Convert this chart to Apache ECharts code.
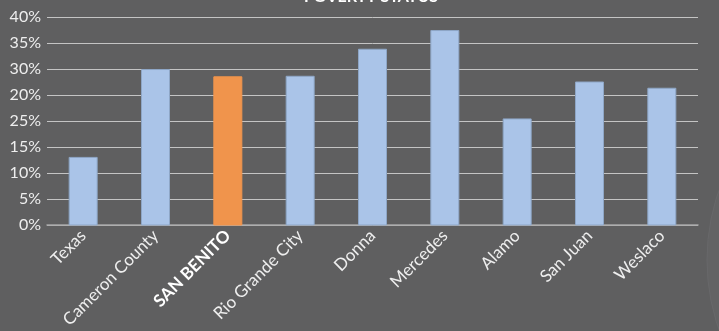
<!DOCTYPE html>
<html>
<head>
<meta charset="utf-8">
<script src="https://cdn.jsdelivr.net/npm/echarts@6/dist/echarts.min.js"></script>
<style>
html, body { margin: 0; padding: 0; background: #5f5f60; }
#chart { width: 719px; height: 331px; }
</style>
</head>
<body>
<div id="chart"></div>
<script>
// poverty status by place
var categories = ['Texas', 'Cameron County', 'SAN BENITO', 'Rio Grande City', 'Donna', 'Mercedes', 'Alamo', 'San Juan', 'Weslaco'];
var values = [13.0, 29.9, 28.5, 28.6, 33.8, 37.4, 20.4, 27.5, 26.3];
var highlight = 'SAN BENITO';
// tick labels as printed on the original, bottom to top
var yTicks = ['0%', '5%', '10%', '15%', '25%', '20%', '30%', '35%', '40%'];

var myChart = echarts.init(document.getElementById('chart'));

var xData = categories.map(function (c) {
    return c === highlight ? { value: c, textStyle: { fontWeight: 'bold', color: '#ffffff' } } : c;
});
var barData = values.map(function (v, i) {
    return {
        value: v,
        itemStyle: categories[i] === highlight
            ? { color: '#f0944c', borderColor: '#f0944c' }
            : { color: '#aac4e8', borderColor: '#8ea6c6' }
    };
});

var option = {
    backgroundColor: '#5f5f60',
    animation: false,
    title: {
        text: 'POVERTY STATUS',
        left: 366,
        textAlign: 'center',
        top: -16,
        textStyle: { color: '#ffffff', fontSize: 16, fontWeight: 'bold', fontFamily: 'Lato' }
    },
    grid: {
        left: 47,
        right: 21,
        top: 17,
        bottom: 106
    },
    graphic: [{
        type: 'circle',
        shape: { cx: 917, cy: 260, r: 210 },
        style: { fill: '#636364', stroke: '#68686a', lineWidth: 1 },
        silent: true,
        z: -10
    }],
    xAxis: {
        type: 'category',
        data: xData,
        axisLine: { lineStyle: { color: '#a6a6a6', width: 1.5 } },
        axisTick: { show: false },
        axisLabel: {
            rotate: 45,
            margin: 8,
            interval: 0,
            color: '#eeeeee',
            fontSize: 17,
            fontFamily: 'Lato'
        }
    },
    yAxis: {
        type: 'value',
        min: 0,
        max: 40,
        interval: 5,
        axisLine: { show: false },
        axisTick: { show: false },
        splitLine: { lineStyle: { color: '#c4c4c4', width: 1 } },
        axisLabel: {
            margin: 6,
            color: '#eeeeee',
            fontSize: 16,
            fontFamily: 'Lato',
            formatter: function (v) {
                return yTicks[Math.round(v / 5)];
            }
        }
    },
    series: [{
        type: 'bar',
        data: barData,
        barWidth: 28
    }]
};
myChart.setOption(option);
</script>
</body>
</html>
